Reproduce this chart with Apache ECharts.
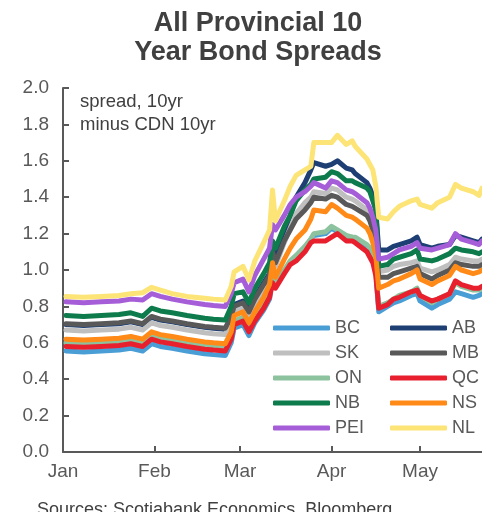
<!DOCTYPE html>
<html>
<head>
<meta charset="utf-8">
<script src="https://cdn.jsdelivr.net/npm/echarts@6/dist/echarts.min.js"></script>
<style>
html,body{margin:0;padding:0;background:#fff;}
#chart{width:482px;height:512px;}
</style>
</head>
<body>
<div id="chart"></div>
<script>
// ---- data ----
const dates = ['2020-01-02','2020-01-08','2020-01-14','2020-01-20','2020-01-24','2020-01-28','2020-01-31',
  '2020-02-03','2020-02-07','2020-02-12','2020-02-18','2020-02-21','2020-02-25','2020-02-27','2020-02-28',
  '2020-03-02','2020-03-04','2020-03-06','2020-03-09','2020-03-11','2020-03-12','2020-03-13','2020-03-16',
  '2020-03-18','2020-03-20','2020-03-23','2020-03-25','2020-03-26','2020-03-30','2020-04-01','2020-04-03',
  '2020-04-06','2020-04-08','2020-04-09','2020-04-13','2020-04-14','2020-04-15','2020-04-16','2020-04-17',
  '2020-04-20','2020-04-22','2020-04-24','2020-04-28','2020-04-30','2020-05-01','2020-05-05','2020-05-07',
  '2020-05-11','2020-05-13','2020-05-15','2020-05-19','2020-05-21','2020-05-22'];

const BC  = [0.555,0.55,0.555,0.56,0.57,0.555,0.595,0.58,0.57,0.555,0.54,0.535,0.53,0.60,0.68,0.70,
  0.64,0.71,0.78,0.84,0.95,0.92,0.99,1.04,1.07,1.12,1.17,1.19,1.20,1.23,1.21,1.18,1.18,1.17,1.13,1.11,1.07,1.00,0.77,0.80,0.82,0.83,0.86,0.87,0.83,0.79,0.81,0.84,0.88,0.87,0.85,0.86,0.87];
const AB  = [0.70,0.695,0.70,0.705,0.715,0.70,0.74,0.725,0.715,0.70,0.685,0.68,0.675,0.74,0.81,0.83,
  0.78,0.85,0.93,0.98,1.12,1.07,1.20,1.30,1.40,1.48,1.55,1.59,1.57,1.58,1.60,1.56,1.55,1.53,1.48,1.45,1.41,1.33,1.11,1.11,1.13,1.14,1.16,1.18,1.14,1.12,1.13,1.14,1.19,1.18,1.16,1.15,1.17];
const SK  = [0.67,0.665,0.67,0.675,0.685,0.67,0.71,0.695,0.685,0.67,0.655,0.65,0.645,0.71,0.77,0.79,
  0.74,0.81,0.89,0.95,1.08,1.02,1.15,1.23,1.31,1.37,1.40,1.43,1.42,1.45,1.44,1.40,1.39,1.38,1.33,1.30,1.25,1.19,0.99,1.00,1.02,1.03,1.04,1.05,1.01,0.99,1.00,1.03,1.07,1.06,1.05,1.05,1.06];
const MB  = [0.705,0.70,0.705,0.71,0.72,0.705,0.745,0.73,0.72,0.705,0.69,0.685,0.68,0.745,0.80,0.82,
  0.77,0.84,0.92,0.97,1.10,1.04,1.16,1.22,1.28,1.33,1.37,1.40,1.39,1.41,1.40,1.36,1.35,1.34,1.30,1.27,1.22,1.16,0.96,0.96,0.98,0.99,1.01,1.02,0.98,0.95,0.97,1.00,1.04,1.03,1.02,1.02,1.03];
const ON  = [0.60,0.595,0.60,0.605,0.615,0.60,0.64,0.625,0.615,0.60,0.585,0.58,0.575,0.64,0.72,0.74,
  0.68,0.74,0.81,0.87,0.97,0.93,1.00,1.05,1.08,1.13,1.17,1.20,1.21,1.24,1.22,1.19,1.18,1.18,1.14,1.12,1.08,1.01,0.80,0.82,0.84,0.86,0.88,0.90,0.86,0.82,0.84,0.87,0.93,0.91,0.89,0.89,0.90];
const QC  = [0.58,0.575,0.58,0.585,0.595,0.58,0.62,0.605,0.595,0.58,0.565,0.56,0.555,0.62,0.70,0.72,
  0.66,0.72,0.79,0.85,0.93,0.90,0.98,1.03,1.05,1.10,1.15,1.16,1.16,1.18,1.20,1.16,1.16,1.15,1.10,1.07,1.04,0.97,0.79,0.81,0.84,0.85,0.88,0.89,0.86,0.83,0.84,0.87,0.94,0.92,0.90,0.90,0.91];
const NB  = [0.75,0.745,0.75,0.755,0.765,0.745,0.79,0.775,0.765,0.75,0.735,0.73,0.725,0.80,0.87,0.88,
  0.82,0.90,0.98,1.04,1.16,1.12,1.24,1.30,1.38,1.44,1.47,1.50,1.51,1.54,1.53,1.49,1.49,1.48,1.45,1.43,1.38,1.33,1.02,1.03,1.06,1.07,1.09,1.11,1.06,1.05,1.06,1.09,1.12,1.11,1.10,1.09,1.10];
const NS  = [0.62,0.615,0.62,0.625,0.635,0.62,0.66,0.645,0.635,0.62,0.605,0.60,0.595,0.66,0.75,0.77,
  0.71,0.77,0.85,0.92,1.04,0.96,1.06,1.12,1.17,1.22,1.28,1.33,1.32,1.36,1.34,1.30,1.29,1.28,1.23,1.20,1.15,1.08,0.90,0.92,0.94,0.95,0.98,1.00,0.95,0.92,0.94,0.97,1.02,1.00,0.98,0.99,1.00];
const PEI = [0.825,0.82,0.825,0.83,0.84,0.835,0.87,0.855,0.84,0.825,0.81,0.805,0.80,0.87,0.93,0.95,
  0.88,0.97,1.06,1.12,1.25,1.22,1.30,1.36,1.40,1.43,1.46,1.48,1.45,1.49,1.48,1.44,1.43,1.42,1.37,1.34,1.29,1.22,1.06,1.07,1.09,1.11,1.13,1.15,1.12,1.11,1.12,1.14,1.20,1.17,1.15,1.14,1.16];
const NL  = [0.855,0.85,0.855,0.86,0.87,0.875,0.905,0.89,0.87,0.855,0.845,0.84,0.835,0.91,0.99,1.02,
  0.945,1.05,1.15,1.22,1.44,1.27,1.38,1.46,1.52,1.55,1.57,1.70,1.70,1.70,1.74,1.69,1.71,1.68,1.61,1.58,1.55,1.46,1.29,1.28,1.32,1.35,1.38,1.39,1.36,1.34,1.37,1.40,1.47,1.45,1.43,1.41,1.45];

const seriesNames = ['BC','AB','SK','MB','ON','QC','NB','NS','PEI','NL'];
const seriesValues = [BC, AB, SK, MB, ON, QC, NB, NS, PEI, NL];
const seriesColors = ['#4a9ed6','#1d3f74','#bfbfbf','#595959','#8cc29d','#e8202e','#0d7b4c','#ff8a18','#a65ed8','#fde476'];
const monthLabels = ['Jan','Feb','Mar','Apr','May','Jun','Jul','Aug','Sep','Oct','Nov','Dec'];
const yTicks = [0, 2, 0.2];

const chart = echarts.init(document.getElementById('chart'), null, {renderer: 'canvas'});
const FONT = 'Liberation Sans, Arial, sans-serif';

const series = seriesNames.map((name, i) => ({
  name: name,
  type: 'line',
  data: dates.map((d, j) => [d, seriesValues[i][j]]),
  showSymbol: false,
  symbol: 'none',
  lineStyle: {color: seriesColors[i], width: 5, cap: 'round', join: 'round'},
  itemStyle: {color: seriesColors[i]},
  emphasis: {disabled: true},
  animation: false
}));

const legendCommon = {
  orient: 'vertical',
  icon: 'roundRect',
  itemWidth: 57,
  itemHeight: 5,
  itemGap: 7,
  padding: 0,
  textStyle: {fontFamily: FONT, fontSize: 18, color: '#595959', padding: [0,0,0,0]},
  selectedMode: false
};

chart.setOption({
  animation: false,
  backgroundColor: '#ffffff',
  grid: {left: 63, right: 0, top: 88, bottom: 60, containLabel: false},
  xAxis: {
    type: 'time',
    min: '2020-01-01',
    max: '2020-05-22',
    splitNumber: 5,
    axisLine: {lineStyle: {color: '#595959', width: 2}},
    axisTick: {show: true, inside: true, length: 6, lineStyle: {color: '#595959', width: 2}},
    axisLabel: {
      fontFamily: FONT, fontSize: 19, color: '#595959', margin: 10,
      formatter: function (v) { return monthLabels[new Date(v).getMonth()]; },
      hideOverlap: false
    },
    splitLine: {show: false}
  },
  yAxis: {
    type: 'value',
    min: yTicks[0], max: yTicks[1], interval: yTicks[2],
    axisLine: {show: true, lineStyle: {color: '#595959', width: 2}},
    axisTick: {show: true, inside: true, length: 6, lineStyle: {color: '#595959', width: 2}},
    axisLabel: {fontFamily: FONT, fontSize: 19, color: '#595959', margin: 14,
      formatter: v => v.toFixed(1)},
    splitLine: {show: false}
  },
  legend: [
    Object.assign({}, legendCommon, {left: 273, top: 319, data: ['BC','SK','ON','NB','PEI']}),
    Object.assign({}, legendCommon, {left: 390, top: 319, data: ['AB','MB','QC','NS','NL']})
  ],
  graphic: [
    {type: 'text', x: 258, y: 24, style: {text: 'All Provincial 10', fontFamily: FONT, fontSize: 27, fontWeight: 'bold', fill: '#404040', align: 'center', verticalAlign: 'middle'}},
    {type: 'text', x: 258, y: 53, style: {text: 'Year Bond Spreads', fontFamily: FONT, fontSize: 27, fontWeight: 'bold', fill: '#404040', align: 'center', verticalAlign: 'middle'}},
    {type: 'text', x: 80, y: 102, style: {text: 'spread, 10yr', fontFamily: FONT, fontSize: 18.5, fill: '#404040', align: 'left', verticalAlign: 'middle'}},
    {type: 'text', x: 80, y: 125, style: {text: 'minus CDN 10yr', fontFamily: FONT, fontSize: 18.5, fill: '#404040', align: 'left', verticalAlign: 'middle'}},
    {type: 'text', x: 37, y: 510, style: {text: 'Sources: Scotiabank Economics, Bloomberg', fontFamily: FONT, fontSize: 18, fill: '#404040', align: 'left', verticalAlign: 'middle'}}
  ],
  series: series
});
</script>
</body>
</html>
